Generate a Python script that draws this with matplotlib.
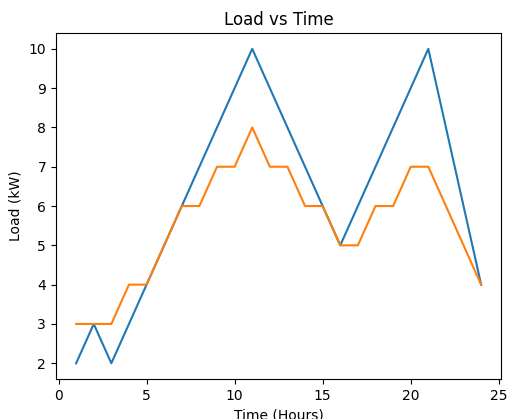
import matplotlib
matplotlib.use("Agg")
import matplotlib.pyplot as plt

hours = list(range(1, 25))
load_a = [2, 3, 2, 3, 4, 5, 6, 7, 8, 9, 10, 9, 8, 7, 6, 5, 6, 7, 8, 9, 10, 8, 6, 4]
load_b = [3, 3, 3, 4, 4, 5, 6, 6, 7, 7, 8, 7, 7, 6, 6, 5, 5, 6, 6, 7, 7, 6, 5, 4]

fig, ax = plt.subplots(figsize=(5.08, 4.19), dpi=100)
ax.plot(hours, load_a)
ax.plot(hours, load_b)
ax.set_title("Load vs Time")
ax.set_xlabel("Time (Hours)")
ax.set_ylabel("Load (kW)")
fig.subplots_adjust(left=0.110, right=0.987, top=0.921, bottom=0.0955)
fig.savefig("out.png")
